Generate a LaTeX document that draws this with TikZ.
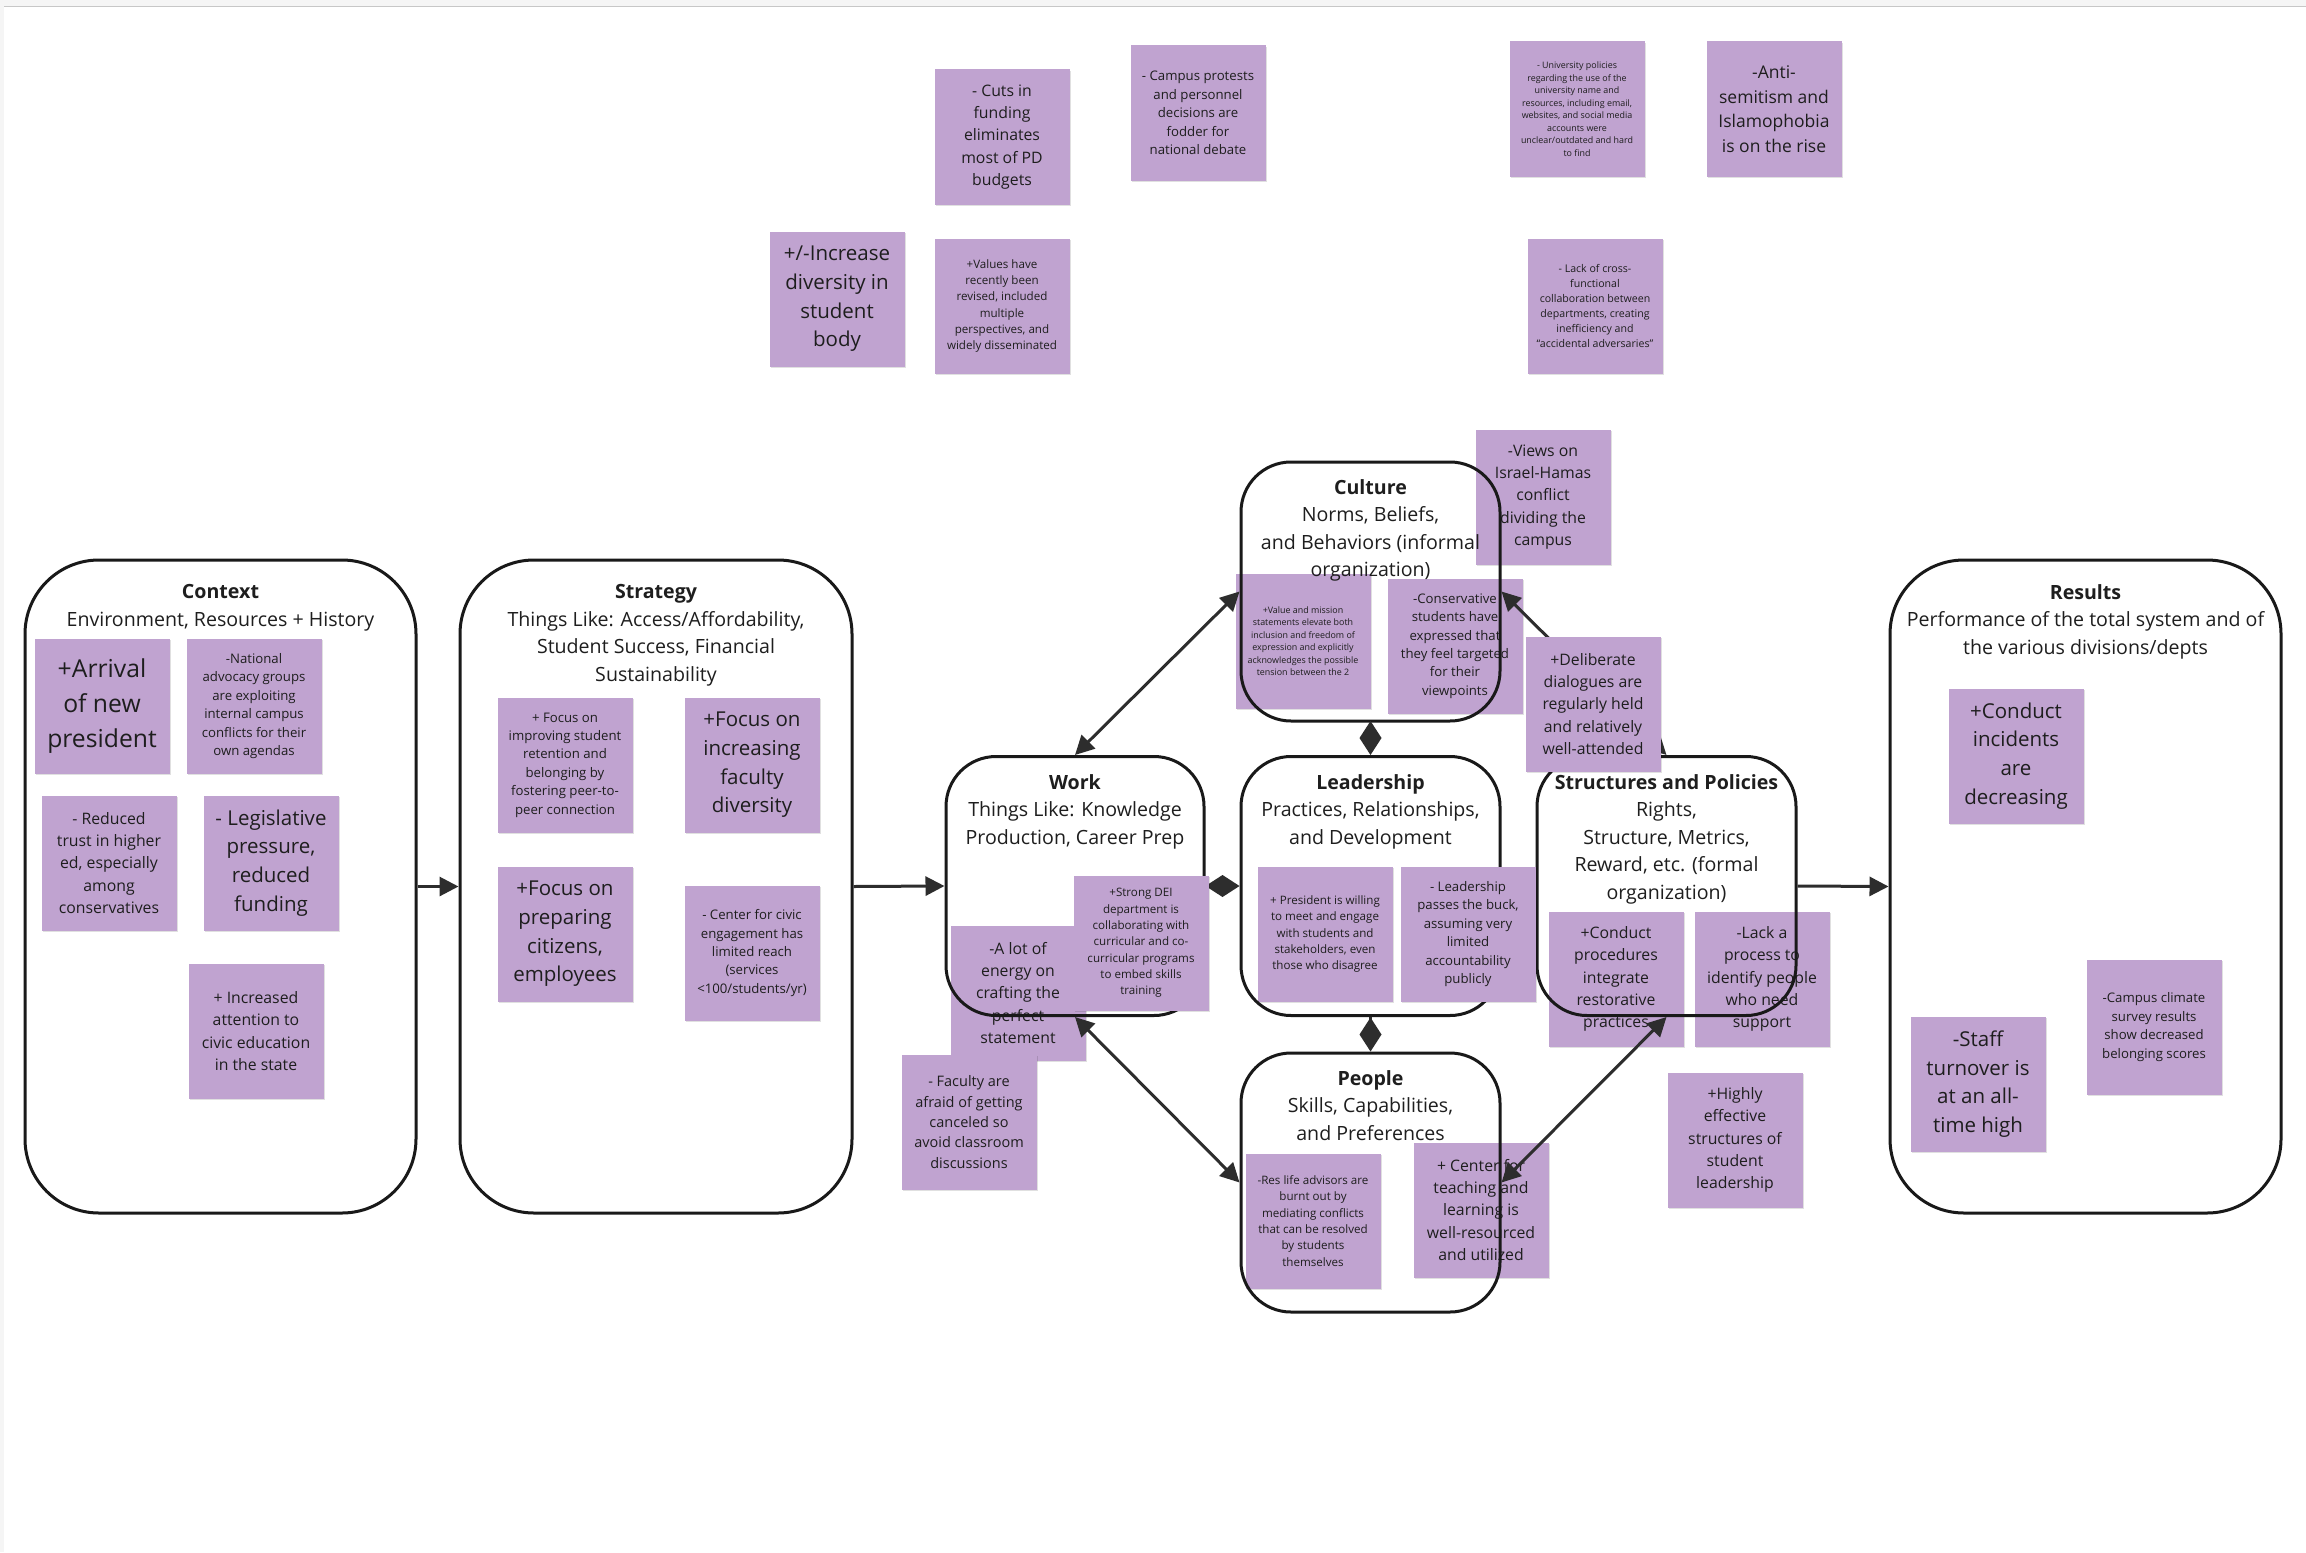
\documentclass[tikz,border=0pt]{standalone}
\usepackage{fontspec}
\setmainfont{Open Sans}
\usetikzlibrary{arrows.meta,shadows}
\definecolor{stickyc}{RGB}{192,163,208}
\definecolor{textc}{RGB}{30,30,30}
\definecolor{linec}{RGB}{45,45,45}
\definecolor{boxc}{RGB}{25,25,25}
\tikzset{
  stk/.style={rectangle, fill=stickyc, minimum width=67.5pt, minimum height=67.5pt, align=center, inner sep=0pt, text=textc,
    drop shadow={shadow xshift=0.6pt, shadow yshift=-0.8pt, opacity=0.12, fill=black}},
  bigbox/.style={draw=boxc, line width=1.5pt, rounded corners=37pt, minimum width=195.5pt, minimum height=326.5pt, inner sep=0pt},
  midbox/.style={draw=boxc, line width=1.5pt, rounded corners=25pt, minimum width=129.5pt, minimum height=129.5pt, inner sep=0pt},
  ttl/.style={anchor=north, align=center, inner sep=0pt, text=textc, font=\fontsize{9.8}{13.75}\selectfont},
  fXL/.style={font=\fontsize{12.35}{17.3}\selectfont},
  fL/.style={font=\fontsize{10.25}{14.35}\selectfont},
  fA/.style={font=\fontsize{8.75}{12.25}\selectfont},
  fM/.style={font=\fontsize{7.9}{11.1}\selectfont},
  fF/.style={font=\fontsize{7.25}{10.15}\selectfont},
  fS/.style={font=\fontsize{6.6}{9.2}\selectfont},
  fXS/.style={font=\fontsize{5.8}{8.15}\selectfont},
  fXXS/.style={font=\fontsize{5.3}{7.45}\selectfont},
  fXXXS/.style={font=\fontsize{4.45}{6.25}\selectfont},
  arr/.style={draw=linec, line width=1.5pt, -{Triangle[length=9.5pt,width=9.5pt]}},
  dbl/.style={draw=linec, line width=1.5pt, {Triangle[length=9.5pt,width=9.5pt]}-{Triangle[length=9.5pt,width=9.5pt]}},
  dia/.style={draw=linec, line width=1.5pt, -{Diamond[length=17pt,width=11pt]}},
}
\begin{document}
\begin{tikzpicture}[x=0.5pt,y=-0.5pt]
\path[use as bounding box, fill=white] (0,0) rectangle (2306,1552);
\fill[black!4] (0,0) rectangle (2306,6);
\fill[black!4] (0,6) rectangle (4,1552);
\draw[black!22, line width=0.8pt] (4,6.5) -- (2306,6.5);

% ---------- stickies (under boxes) ----------
\node[stk, fM] (s1) at (1002,137) {- Cuts in\\funding\\eliminates\\most of PD\\budgets};
\node[stk, fS] (s2) at (1198,113) {- Campus protests\\and personnel\\decisions are\\fodder for\\national debate};
\node[stk, fXXXS] (s3) at (1577,109) {- University policies\\regarding the use of the\\university name and\\resources, including email,\\websites, and social media\\accounts were\\unclear/outdated and hard\\to find};
\node[stk, fA] (s4) at (1774,109) {-Anti-\\semitism and\\Islamophobia\\is on the rise};
\node[stk, fL] (s5) at (837,299) {+/-Increase\\diversity in\\student\\body};
\node[stk, fXS] (s6) at (1002,306) {+Values have\\recently been\\revised, included\\multiple\\perspectives, and\\widely disseminated};
\node[stk, fXXS] (s7) at (1595,306) {- Lack of cross-\\functional\\collaboration between\\departments, creating\\inefficiency and\\“accidental adversaries”};

\node[stk, fXL] (s8) at (102,706) {+Arrival\\of new\\president};
\node[stk, fS] (s9) at (254,706) {-National\\advocacy groups\\are exploiting\\internal campus\\conflicts for their\\own agendas};
\node[stk, fM] (s10) at (109,863) {- Reduced\\trust in higher\\ed, especially\\among\\conservatives};
\node[stk, fL] (s11) at (271,863) {- Legislative\\pressure,\\reduced\\funding};
\node[stk, fM] (s12) at (256,1031) {+ Increased\\attention to\\civic education\\in the state};

\node[stk, fS] (s13) at (565,765) {+ Focus on\\improving student\\retention and\\belonging by\\fostering peer-to-\\peer connection};
\node[stk, fL] (s14) at (752,765) {+Focus on\\increasing\\faculty\\diversity};
\node[stk, fL] (s15) at (565,934) {+Focus on\\preparing\\citizens,\\employees};
\node[stk, fS] (s16) at (752,953) {- Center for civic\\engagement has\\limited reach\\(services\\<100/students/yr)};

\node[stk, fM] (s18) at (1018,993) {-A lot of\\energy on\\crafting the\\perfect\\statement};
\node[stk, fF] (s19) at (969,1122) {- Faculty are\\afraid of getting\\canceled so\\avoid classroom\\discussions};

\node[stk, fXXXS] (s20) at (1303,641) {+Value and mission\\statements elevate both\\inclusion and freedom of\\expression and explicitly\\acknowledges the possible\\tension between the 2};
\node[stk, fS] (s21) at (1455,646) {-Conservative\\students have\\expressed that\\they feel targeted\\for their\\viewpoints};
\node[stk, fM] (s22) at (1543,497) {-Views on\\Israel-Hamas\\conflict\\dividing the\\campus};

\node[stk, fXS] (s24) at (1325,934) {+ President is willing\\to meet and engage\\with students and\\stakeholders, even\\those who disagree};

\node[stk, fM] (s26) at (1616,979) {+Conduct\\procedures\\integrate\\restorative\\practices};
\node[stk, fM] (s27) at (1762,979) {-Lack a\\process to\\identify people\\who need\\support};
\node[stk, fM] (s28) at (1735,1140) {+Highly\\effective\\structures of\\student\\leadership};

\node[stk, fXS] (s29) at (1313,1221) {-Res life advisors are\\burnt out by\\mediating conflicts\\that can be resolved\\by students\\themselves};
\node[stk, fM] (s30) at (1481,1210) {+ Center for\\teaching and\\learning is\\well-resourced\\and utilized};

\node[stk, fL] (s31) at (2016,756) {+Conduct\\incidents\\are\\decreasing};
\node[stk, fL] (s32) at (1978,1084) {-Staff\\turnover is\\at an all-\\time high};
\node[stk, fS] (s33) at (2154,1027) {-Campus climate\\survey results\\show decreased\\belonging scores};

% ---------- boxes ----------
\node[bigbox] (context) at (220.5,886.5) {};
\node[ttl] (contextT) at (220.5,584) {{\bfseries Context}\\Environment, Resources + History};
\node[bigbox, minimum width=196pt] (strategy) at (656,886.5) {};
\node[ttl] (strategyT) at (656,584) {{\bfseries Strategy}\\Things Like: Access/Affordability,\\Student Success, Financial\\Sustainability};
\node[bigbox] (results) at (2085.5,886.5) {};
\node[ttl] (resultsT) at (2085.5,584) {{\bfseries Results}\\Performance of the total system and of\\the various divisions/depts};

\node[midbox] (culture) at (1370.5,591.5) {};
\node[ttl] (cultureT) at (1370.5,479) {{\bfseries Culture}\\Norms, Beliefs,\\and Behaviors (informal\\organization)};
\node[midbox, minimum width=129pt] (work) at (1075,886) {};
\node[ttl] (workT) at (1075,774) {{\bfseries Work}\\Things Like: Knowledge\\Production, Career Prep};
\node[midbox] (leadership) at (1370.5,886) {};
\node[ttl] (leadershipT) at (1370.5,774) {{\bfseries Leadership}\\Practices, Relationships,\\and Development};
\node[midbox] (structures) at (1666.5,886) {};
\node[ttl] (structuresT) at (1666.5,774) {{\bfseries Structures and Policies}\\Rights,\\Structure, Metrics,\\Reward, etc. (formal\\organization)};
\node[midbox] (people) at (1370.5,1182.5) {};
\node[ttl] (peopleT) at (1370.5,1070) {{\bfseries People}\\Skills, Capabilities,\\and Preferences};

% ---------- connectors ----------
\draw[arr] (context.east) -- (strategy.west);
\draw[arr] (strategy.east) -- (work.west);
\draw[arr] (structures.east) -- (results.west);
\draw[dbl] (work.north) -- (culture.west);
\draw[dbl] (work.south) -- (people.west);
\draw[dbl] (culture.east) -- (structures.north);
\draw[dbl] (people.east) -- (structures.south);
\draw[dia] (culture.south) -- (leadership.north);
\draw[dia] (work.east) -- (leadership.west);
\draw[dia] (leadership.south) -- (people.north);

% ---------- stickies on top ----------
\node[stk, fXS] (s17) at (1141,943) {+Strong DEI\\department is\\collaborating with\\curricular and co-\\curricular programs\\to embed skills\\training};
\node[stk, fS] (s25) at (1468,934) {- Leadership\\passes the buck,\\assuming very\\limited\\accountability\\publicly};
\node[stk, fM] (s23) at (1593,704) {+Deliberate\\dialogues are\\regularly held\\and relatively\\well-attended};
\end{tikzpicture}
\end{document}
